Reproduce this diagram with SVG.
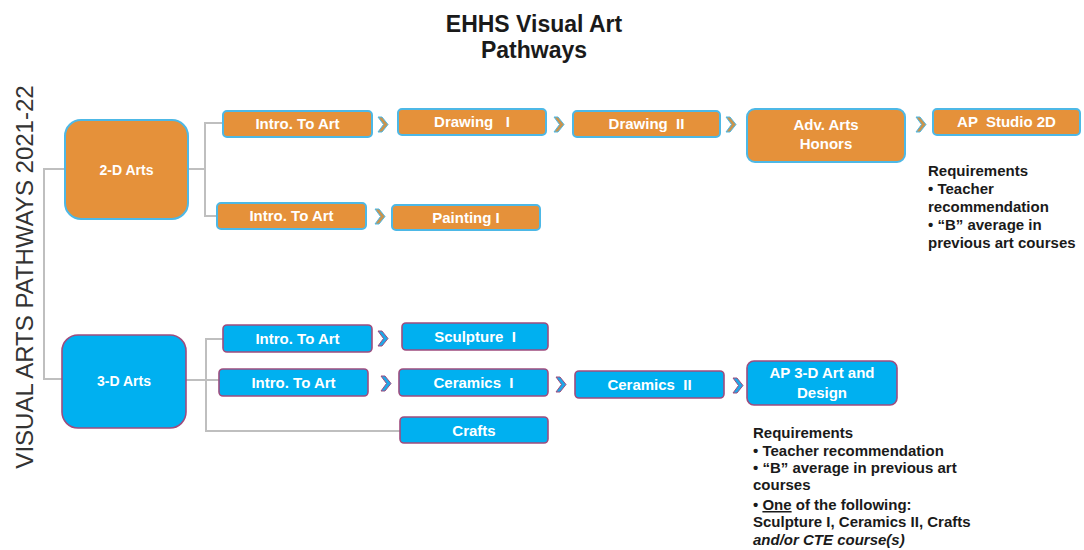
<svg xmlns="http://www.w3.org/2000/svg" width="1084" height="550" viewBox="0 0 1084 550">
<style>
.bg{fill:#ffffff}
.o{fill:#E5913A;stroke:#4DB8E6;stroke-width:2}
.b{fill:#00B0F0;stroke:#9E4C7E;stroke-width:1.6}
.co{fill:#C9944E;stroke:#4DB8E6;stroke-width:1}
.cb{fill:#1EA8E8;stroke:#9E4C7E;stroke-width:1}
.lbl{font-family:"Liberation Sans",Arial,sans-serif;font-size:15px;font-weight:bold;fill:#ffffff;text-anchor:middle}
.big{font-size:14px}
.req{font-family:"Liberation Sans",Arial,sans-serif;font-size:15px;font-weight:bold;fill:#1a1a1a}
.title{font-family:"Liberation Sans",Arial,sans-serif;font-size:23px;font-weight:bold;fill:#1a1a1a;text-anchor:middle}
.side{font-family:"Liberation Sans",Arial,sans-serif;font-size:24px;fill:#333333;text-anchor:middle}
.ln{fill:none;stroke:#BFBFBF;stroke-width:2}
</style>
<defs>
<polygon id="chev" points="0,0 4,0 10,7.5 4,15 0,15 5.5,7.5"/>
</defs>
<rect class="bg" x="0" y="0" width="1084" height="550"/>
<g id="title">
<text class="title" x="534" y="32">EHHS Visual Art</text>
<text class="title" x="534" y="58">Pathways</text>
</g>
<g id="side-label">
<text class="side" transform="translate(33,277) rotate(-90)">VISUAL ARTS PATHWAYS 2021-22</text>
</g>
<g id="connectors">
<polyline class="ln" points="65,169 44,169 44,379 62,379"/>
<polyline class="ln" points="188,169 205,169"/>
<polyline class="ln" points="224,123 205,123 205,216 218,216"/>
<polyline class="ln" points="186,380 219,380"/>
<polyline class="ln" points="223,339 206,339 206,431 400,431"/>
<use href="#chev" class="co" x="378" y="117"/>
<use href="#chev" class="co" x="554" y="117"/>
<use href="#chev" class="co" x="726" y="117"/>
<use href="#chev" class="co" x="916" y="117"/>
<use href="#chev" class="co" x="375" y="209"/>
<use href="#chev" class="cb" x="378" y="331"/>
<use href="#chev" class="cb" x="381" y="376"/>
<use href="#chev" class="cb" x="556" y="377"/>
<use href="#chev" class="cb" x="733" y="378"/>
</g>
<g id="n2d">
<rect class="o" x="65" y="120" width="123" height="99" rx="16"/>
<text class="lbl big" x="126.5" y="174.5">2-D Arts</text>
</g>
<g id="n2d-intro1">
<rect class="o" x="223" y="111" width="149" height="26" rx="4"/>
<text class="lbl" x="297.5" y="129">Intro. To Art</text>
</g>
<g id="n-drawing1">
<rect class="o" x="398" y="109" width="148" height="26" rx="4"/>
<text class="lbl" x="472" y="127" xml:space="preserve">Drawing   I</text>
</g>
<g id="n-drawing2">
<rect class="o" x="573" y="111" width="147" height="26" rx="4"/>
<text class="lbl" x="646.5" y="129" xml:space="preserve">Drawing  II</text>
</g>
<g id="n-advarts">
<rect class="o" x="747" y="109" width="158" height="53" rx="8"/>
<text class="lbl" x="826" y="130">Adv. Arts</text>
<text class="lbl" x="826" y="149">Honors</text>
</g>
<g id="n-apstudio">
<rect class="o" x="933" y="109" width="147" height="26" rx="4"/>
<text class="lbl" x="1006.5" y="127" xml:space="preserve">AP  Studio 2D</text>
</g>
<g id="req-2d">
<text class="req" x="928" y="176">Requirements</text>
<text class="req" x="928" y="194">• Teacher</text>
<text class="req" x="928" y="212">recommendation</text>
<text class="req" x="928" y="230">• “B” average in</text>
<text class="req" x="928" y="248">previous art courses</text>
</g>
<g id="n2d-intro2">
<rect class="o" x="217" y="203" width="149" height="26" rx="4"/>
<text class="lbl" x="291.5" y="221">Intro. To Art</text>
</g>
<g id="n-painting1">
<rect class="o" x="392" y="205" width="148" height="25" rx="4"/>
<text class="lbl" x="466" y="223">Painting I</text>
</g>
<g id="n3d">
<rect class="b" x="62" y="335" width="124" height="93" rx="16"/>
<text class="lbl big" x="124" y="386">3-D Arts</text>
</g>
<g id="n3d-intro1">
<rect class="b" x="223" y="325" width="149" height="27" rx="4"/>
<text class="lbl" x="297.5" y="344">Intro. To Art</text>
</g>
<g id="n-sculpture1">
<rect class="b" x="402" y="323" width="146" height="27" rx="4"/>
<text class="lbl" x="475" y="342" xml:space="preserve">Sculpture  I</text>
</g>
<g id="n3d-intro2">
<rect class="b" x="219" y="369" width="149" height="27" rx="4"/>
<text class="lbl" x="293.5" y="388">Intro. To Art</text>
</g>
<g id="n-ceramics1">
<rect class="b" x="399" y="369" width="149" height="27" rx="4"/>
<text class="lbl" x="473.5" y="388" xml:space="preserve">Ceramics  I</text>
</g>
<g id="n-ceramics2">
<rect class="b" x="575" y="371" width="149" height="27" rx="4"/>
<text class="lbl" x="649.5" y="390" xml:space="preserve">Ceramics  II</text>
</g>
<g id="n-ap3d">
<rect class="b" x="747" y="361" width="150" height="44" rx="7"/>
<text class="lbl" x="822" y="378">AP 3-D Art and</text>
<text class="lbl" x="822" y="398">Design</text>
</g>
<g id="n-crafts">
<rect class="b" x="400" y="417" width="148" height="26" rx="4"/>
<text class="lbl" x="474" y="436">Crafts</text>
</g>
<g id="req-3d">
<text class="req" x="753" y="438">Requirements</text>
<text class="req" x="753" y="456">• Teacher recommendation</text>
<text class="req" x="753" y="473">• “B” average in previous art</text>
<text class="req" x="753" y="490">courses</text>
<text class="req" x="753" y="510">• <tspan text-decoration="underline">One</tspan> of the following:</text>
<text class="req" x="753" y="527">Sculpture I, Ceramics II, Crafts</text>
<text class="req" x="753" y="545" font-style="italic">and/or CTE course(s)</text>
</g>
</svg>
